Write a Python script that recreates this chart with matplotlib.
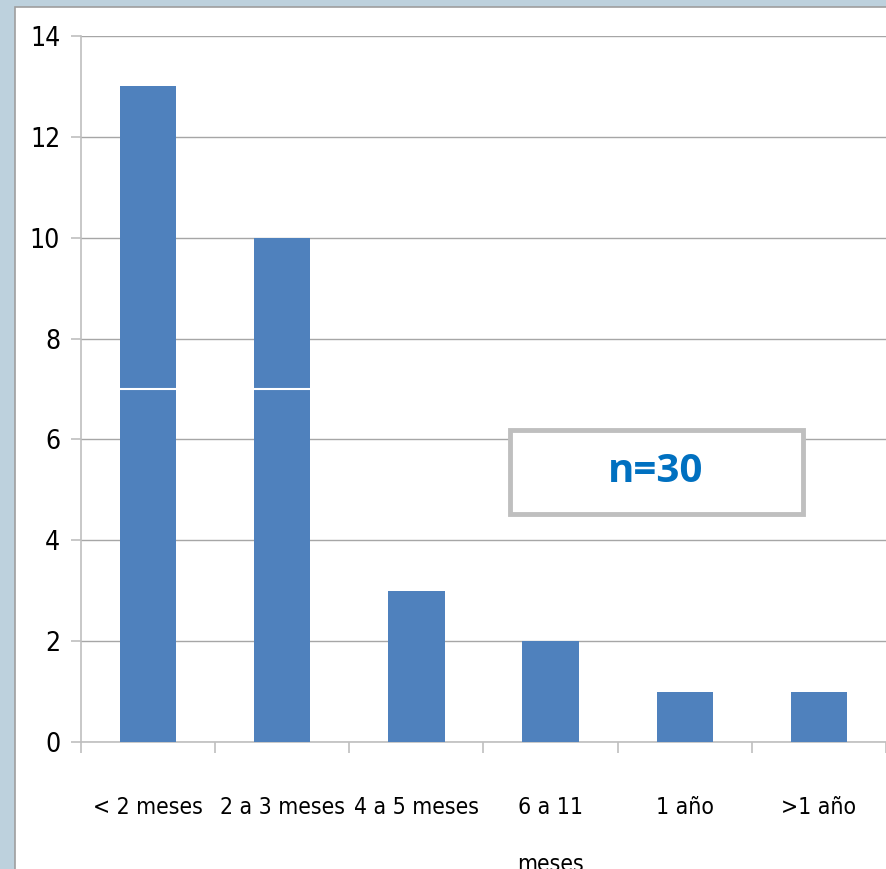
import matplotlib.pyplot as plt
import matplotlib.patches as patches
from matplotlib import font_manager
from matplotlib.font_manager import FontProperties

# duration categories and counts (n=30)
categories = ["< 2 meses", "2 a 3 meses", "4 a 5 meses", "6 a 11\nmeses", "1 año", ">1 año"]
lower_part = [7, 7, 3, 2, 1, 1]
upper_part = [6, 3, 0, 0, 0, 0]
y_ticks = [0, 2, 4, 6, 8, 10, 12, 14]


def narrow_font(size):
    """Pick a regular condensed/narrow face if one is installed."""
    for f in font_manager.fontManager.ttflist:
        fn = f.fname.lower()
        if ("narrow" in fn or "condensed" in fn) and f.weight in (400, "normal") \
                and f.style == "normal" and "bold" not in fn:
            return FontProperties(fname=f.fname, size=size)
    return FontProperties(family="Roboto", size=size * 0.85)


bar_color = "#4F81BD"
grid_color = "#A6A6A6"

fig = plt.figure(figsize=(8.86, 8.69), dpi=100, facecolor="#BDD1DD")

# white chart panel
panel = patches.Rectangle((15 / 886, -0.01), 1.0, 1 - 7 / 869 + 0.01,
                          transform=fig.transFigure, facecolor="white",
                          edgecolor="#9E9E9E", linewidth=1.2, zorder=-5)
fig.patches.append(panel)

ax = fig.add_axes([81 / 886, 1 - 742 / 869, 1 - 81 / 886, (742 - 36) / 869])
ax.set_facecolor("none")
ax.set_zorder(2)

x = list(range(len(categories)))
ax.bar(x, lower_part, width=0.42, color=bar_color, zorder=3)
ax.bar(x, upper_part, width=0.42, bottom=lower_part, color=bar_color,
       linewidth=0, zorder=3)
# white divider where the two segments meet
for i, (lo, up) in enumerate(zip(lower_part, upper_part)):
    if up > 0:
        ax.plot([i - 0.21, i + 0.21], [lo, lo], color="white", lw=1.5, zorder=4)

ax.set_xlim(-0.5, len(categories) - 0.5)
ax.set_ylim(0, 14)
ax.set_yticks(y_ticks)
ax.set_yticklabels([str(v) for v in y_ticks], fontproperties=narrow_font(19))
ax.yaxis.grid(True, color=grid_color, linewidth=1.0, zorder=0)

# category boundaries as major ticks, names on minor ticks
ax.set_xticks([i - 0.5 for i in range(len(categories) + 1)])
ax.set_xticklabels([])
ax.set_xticks(x, minor=True)
ax.set_xticklabels(categories, minor=True, fontproperties=narrow_font(16.5),
                   linespacing=2.9, va="top")
ax.tick_params(axis="x", which="minor", length=0, pad=39)
ax.tick_params(axis="x", which="major", length=8, width=1.2, color="#BFBFBF")
ax.tick_params(axis="y", length=7, width=1.2, color="#BFBFBF", pad=8)

for side in ["top", "right"]:
    ax.spines[side].set_visible(False)
for side in ["left", "bottom"]:
    ax.spines[side].set_color("#BFBFBF")
    ax.spines[side].set_linewidth(1.2)

# sample size box
box = patches.Rectangle((510 / 886, 1 - 514 / 869), 293 / 886, 84 / 869,
                        transform=fig.transFigure, facecolor="white",
                        edgecolor="#BFBFBF", linewidth=3.5, zorder=10)
fig.patches.append(box)
fig.text(656 / 886, 1 - 472 / 869, "n=30", ha="center", va="center",
         fontsize=29, fontweight="bold", family="Open Sans", color="#0070C0",
         zorder=11)

fig.savefig("out.png", dpi=100, facecolor=fig.get_facecolor())
